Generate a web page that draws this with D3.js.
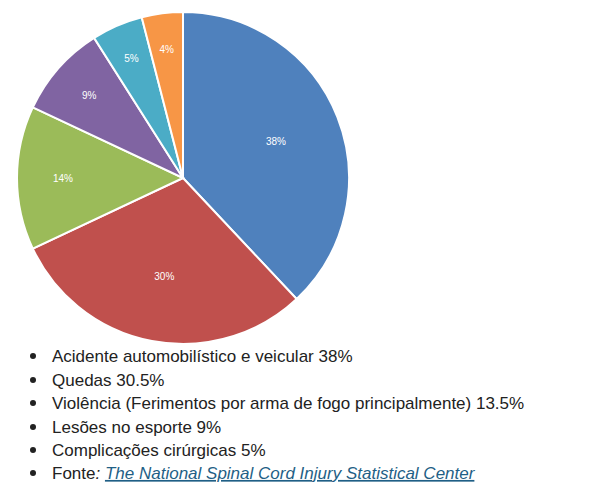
<!DOCTYPE html><html><head><meta charset="utf-8">
<script src="https://cdn.jsdelivr.net/npm/d3@7"></script>
<style>body{margin:0;background:#fff}</style></head><body>
<svg id="c" width="597" height="494"></svg>
<script>
const categories=["Acidente","Quedas","Violência","Esporte","Complicações","Outros"];
const values=[38,30,14,9,5,4];
const colors=["#4f81bd","#c0504d","#9bbb59","#8064a2","#4bacc6","#f79646"];
const legendItems=["Acidente automobilístico e veicular 38%","Quedas 30.5%","Violência (Ferimentos por arma de fogo principalmente) 13.5%","Lesões no esporte 9%","Complicações cirúrgicas 5%"];
const svg=d3.select("#c");
const g=svg.append("g").attr("transform","translate(183,178)");
const pie=d3.pie().sort(null)(values);
const arc=d3.arc().innerRadius(0).outerRadius(166);
const larc=d3.arc().innerRadius(100).outerRadius(100);
g.selectAll("path").data(pie).join("path").attr("d",arc).attr("fill",(d,i)=>colors[i]).attr("stroke","#fff").attr("stroke-width",2);
g.selectAll("text").data(pie).join("text").attr("transform",(d,i)=>{let a=(d.startAngle+d.endAngle)/2;let r=i==0?100:i==1?100:i==2?120:i==3?125:130;return `translate(${Math.sin(a)*r},${-Math.cos(a)*r})`})
 .attr("text-anchor","middle").attr("dy","0.35em").attr("fill","#fff").attr("font-family","Liberation Sans, Arial").attr("font-size",10).text(d=>d.data+"%");
const lg=svg.append("g").attr("font-family","Liberation Sans, Arial").attr("font-size",17).attr("fill","#222");
const ys=[356,380,403,427,450,473];
legendItems.forEach((t,i)=>{lg.append("circle").attr("cx",33).attr("cy",ys[i]).attr("r",3).attr("fill","#222");lg.append("text").attr("x",52).attr("y",ys[i]).attr("dy","0.35em").text(t);});
lg.append("circle").attr("cx",33).attr("cy",ys[5]).attr("r",3).attr("fill","#222");
const ft=lg.append("text").attr("x",52).attr("y",ys[5]).attr("dy","0.35em");
ft.append("tspan").text("Fonte");ft.append("tspan").attr("font-style","italic").text(": ");
ft.append("tspan").attr("font-style","italic").attr("fill","#1f5f86").attr("text-decoration","underline").text("The National Spinal Cord Injury Statistical Center");
</script></body></html>
